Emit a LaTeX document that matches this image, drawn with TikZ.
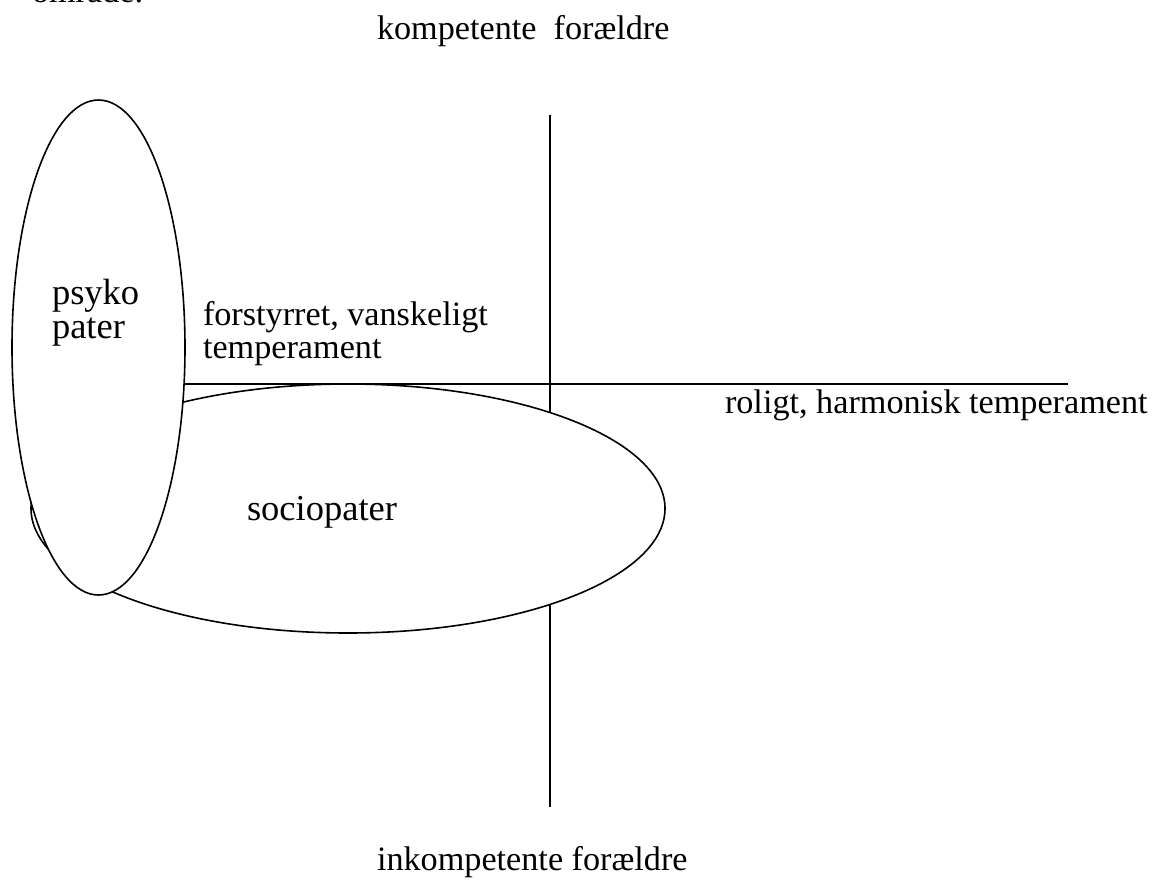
\documentclass[tikz,border=0pt]{standalone}
\usepackage{fontspec}
\setmainfont{Liberation Serif}
\usetikzlibrary{shapes.geometric}
\tikzset{
  lbl/.style={anchor=base west, inner sep=0pt, outer sep=0pt, font=\fontsize{34.2}{40}\selectfont},
  biglbl/.style={lbl, font=\fontsize{36.5}{42}\selectfont},
  axis/.style={line width=1.6pt, line cap=butt},
  blob/.style={ellipse, draw, line width=1.6pt, fill=white, inner sep=0pt, outer sep=0pt}
}
\begin{document}
\begin{tikzpicture}[x=1pt, y=-1pt]
\clip (0,0) rectangle (1156,886);
\fill[white] (0,0) rectangle (1156,886);
% axes
\coordinate (vtop) at (550,115);
\coordinate (vbot) at (550,807);
\coordinate (hleft) at (100,384);
\coordinate (hright) at (1068,384);
\draw[axis] (vtop) -- (vbot);
\draw[axis] (hleft) -- (hright);
% ellipses
\node[blob, minimum width=634pt, minimum height=249pt] (socio) at (348,508.5) {};
\node[blob, minimum width=173pt, minimum height=495pt] (psyko) at (98.5,347.5) {};
% texts
\node[lbl] (omr) at (32,2) {område.};
\node[lbl] (komp) at (377,39) {kompetente\ \ forældre};
\node[lbl] (inkomp) at (377,870) {inkompetente forældre};
\node[lbl] (rolig) at (725,413) {roligt, harmonisk temperament};
\node[lbl] (forst1) at (203,325) {forstyrret, vanskeligt};
\node[lbl] (forst2) at (203,358) {temperament};
\node[biglbl] (ps1) at (52,304) {psyko};
\node[biglbl] (ps2) at (52,338) {pater};
\node[biglbl] (soc) at (247,520) {sociopater};
\end{tikzpicture}
\end{document}
